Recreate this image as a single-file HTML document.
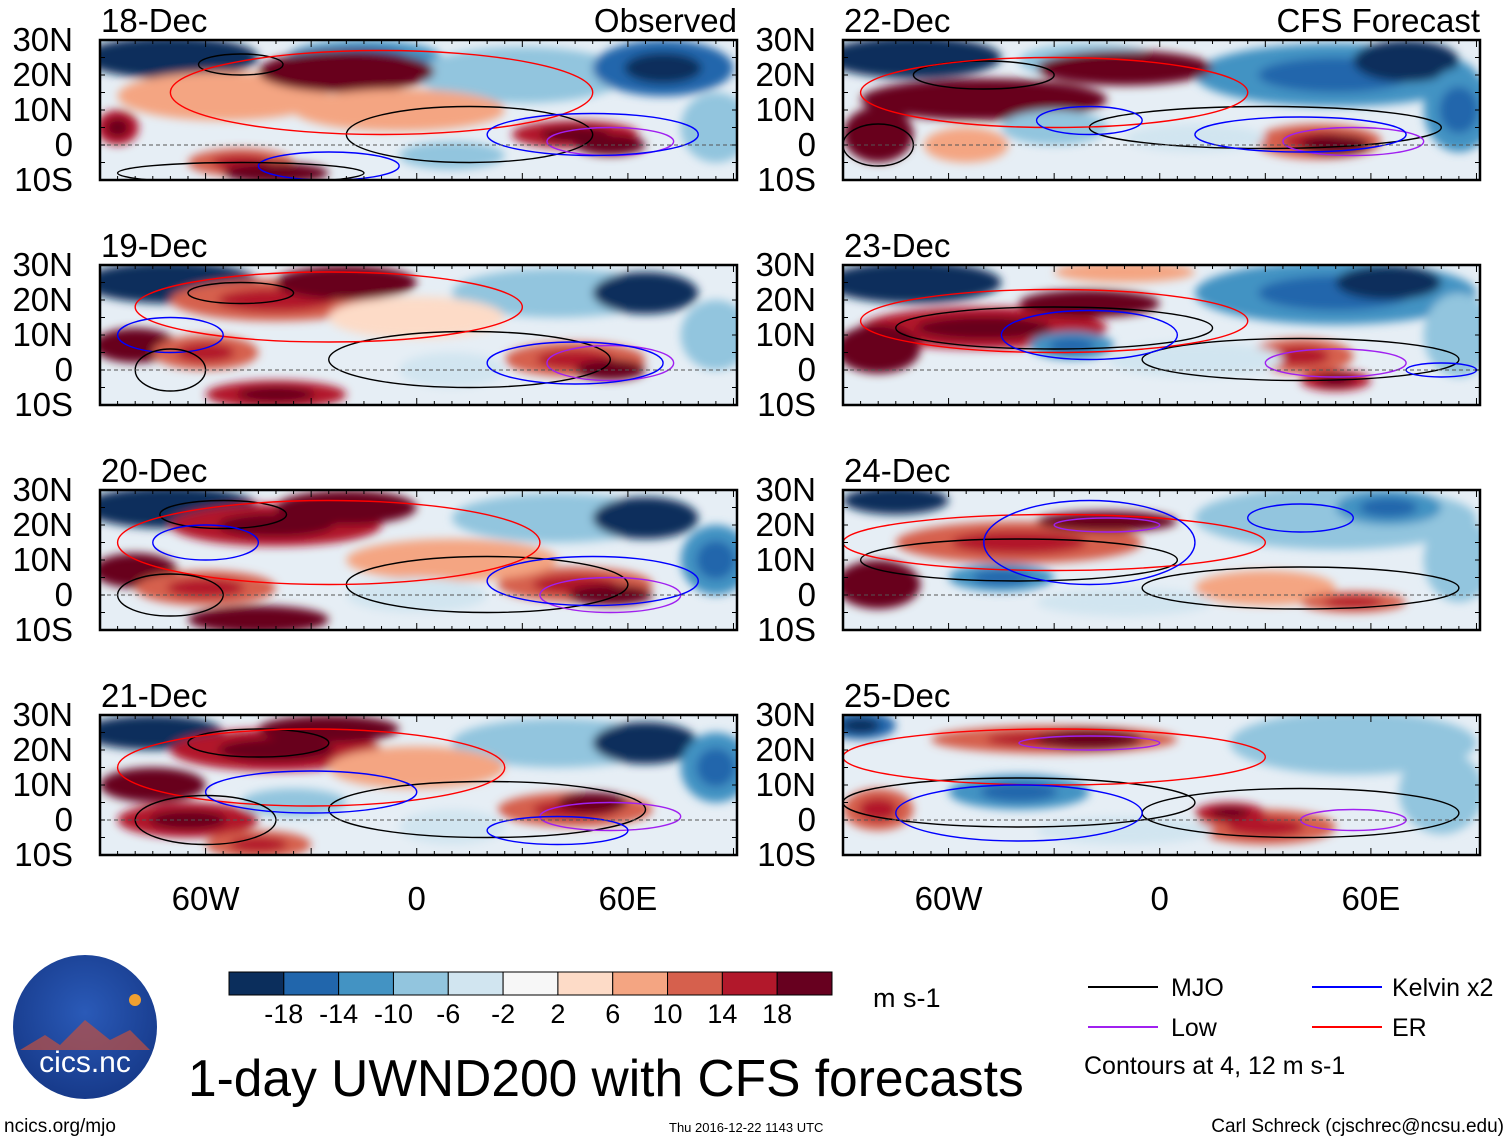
<!DOCTYPE html>
<html><head><meta charset="utf-8">
<style>
body{margin:0;background:#fff;}
svg{display:block;font-family:"Liberation Sans",sans-serif;}
</style></head>
<body>
<svg id="c" width="1510" height="1142" viewBox="0 0 1510 1142" xmlns="http://www.w3.org/2000/svg">
<defs>
<filter id="bl" x="-50%" y="-50%" width="200%" height="200%"><feGaussianBlur stdDeviation="4.5"/></filter>
<radialGradient id="lg" cx="50%" cy="40%" r="60%"><stop offset="0" stop-color="#2a5ab8"/><stop offset="1" stop-color="#173a8a"/></radialGradient>
</defs>
<g id="panels"></g>
<g id="cbar"></g>
<text x="873" y="1007" font-size="27">m s-1</text>
<g font-size="25">
<line x1="1088" y1="987" x2="1158" y2="987" stroke="#000" stroke-width="2"/><text x="1171" y="996">MJO</text>
<line x1="1312" y1="987" x2="1382" y2="987" stroke="#0000ff" stroke-width="2"/><text x="1392" y="996">Kelvin x2</text>
<line x1="1088" y1="1027" x2="1158" y2="1027" stroke="#a020f0" stroke-width="2"/><text x="1171" y="1036">Low</text>
<line x1="1312" y1="1027" x2="1382" y2="1027" stroke="#ff0000" stroke-width="2"/><text x="1392" y="1036">ER</text>
<text x="1084" y="1074">Contours at 4, 12 m s-1</text>
</g>
<text x="188" y="1096" font-size="51.5">1-day UWND200 with CFS forecasts</text>
<text x="4" y="1132" font-size="19">ncics.org/mjo</text>
<text x="669" y="1132" font-size="13">Thu 2016-12-22 1143 UTC</text>
<text x="1504" y="1132" font-size="19" text-anchor="end">Carl Schreck (cjschrec@ncsu.edu)</text>
<g>
<circle cx="85" cy="1027" r="72" fill="url(#lg)"/>
<path d="M20 1050 L45 1035 L60 1045 L85 1020 L110 1040 L130 1030 L150 1050 Z" fill="#c05040" opacity="0.7"/>
<circle cx="135" cy="1000" r="6" fill="#f0a030"/>
<text x="85" y="1072" font-size="30" fill="#fff" text-anchor="middle">cics.nc</text>
</g>
</svg>
<script>
const NS="http://www.w3.org/2000/svg";
const dates=["18-Dec","19-Dec","20-Dec","21-Dec","22-Dec","23-Dec","24-Dec","25-Dec"];
const cbLevels=[-18,-14,-10,-6,-2,2,6,10,14,18];
const cbColors=["#0b2e5c","#2166ac","#4393c3","#92c5de","#d1e5f0","#f7f7f7","#fddbc7","#f4a582","#d6604d","#b2182b","#67001f"];
const latTicks=[30,20,10,0,-10];
const latLabels=["30N","20N","10N","0","10S"];
const lonTicks=[-60,0,60];
const lonLabels=["60W","0","60E"];
// blobs: [lon, lat, rxDeg, ryDeg, value m/s]
const blobs18=[[-70,25,25,6,-20],[-15,25,22,5,-12],[30,20,30,8,-8],[70,22,20,8,-14],[-55,14,30,7,8],[-20,21,25,6,16],[-5,10,30,6,6],[-85,5,6,5,14],[45,3,18,4,14],[55,0,10,3,22],[-50,-5,15,4,12],[-40,-8,15,3,16],[10,-3,15,4,-6],[85,5,10,10,-6]];
const blobs19=[[-70,25,25,6,-20],[-35,21,18,5,-10],[40,22,30,7,-8],[65,22,15,6,-18],[-40,20,30,6,12],[-20,25,20,5,18],[-80,7,12,5,18],[-60,5,15,5,10],[45,3,20,5,12],[55,0,10,3,20],[-40,-7,20,4,14],[0,15,25,6,5],[10,0,15,5,-5],[85,10,10,10,-8]];
const blobs20=[[-70,25,25,6,-22],[40,22,30,7,-8],[65,22,15,6,-18],[-40,20,30,6,14],[-20,25,20,5,20],[-80,7,12,5,18],[-60,2,20,5,12],[45,3,22,5,12],[55,0,12,3,20],[-45,-7,20,4,16],[10,10,30,6,6],[0,0,20,5,-4],[85,10,10,10,-10]];
const blobs21=[[-75,25,20,5,-22],[40,22,30,7,-8],[65,22,15,6,-16],[-40,20,30,6,14],[-25,26,20,4,20],[-75,10,15,5,18],[-65,0,20,5,14],[45,3,22,5,12],[50,5,10,3,18],[-35,5,15,4,-8],[0,15,25,6,6],[10,-2,15,5,-4],[-45,-7,15,4,10],[85,15,10,10,-10]];
const blobs22=[[-70,25,25,6,-20],[-20,24,20,5,-8],[50,20,40,9,-10],[70,24,15,6,-16],[-50,13,35,6,16],[-10,22,25,5,16],[-80,3,10,8,18],[-55,0,12,5,8],[45,1,18,5,12],[50,0,10,3,18],[-30,5,15,5,-6],[10,2,20,4,-4],[85,10,10,12,-10]];
const blobs23=[[-70,25,25,6,-18],[-10,28,20,3,8],[50,22,40,9,-10],[65,25,15,5,-18],[-50,12,35,6,14],[-20,19,20,4,16],[-80,6,12,7,16],[-25,7,12,4,-10],[40,4,15,5,10],[50,-3,10,3,14],[10,3,25,5,-3],[85,10,10,12,-8]];
const blobs24=[[-75,27,15,4,-16],[50,22,40,9,-8],[65,25,15,5,-12],[-40,15,35,6,10],[-15,21,20,3,18],[-80,3,12,7,16],[-45,5,15,4,-10],[30,2,20,5,8],[55,-2,15,3,10],[-10,-2,25,4,-5],[85,10,10,12,-6]];
const blobs25=[[-85,27,10,4,-14],[55,22,35,9,-8],[-30,23,35,4,12],[-20,23,15,3,18],[-80,3,10,6,10],[-40,8,20,5,-10],[30,-2,20,5,10],[20,2,10,3,14],[-10,-3,25,4,-4],[80,8,12,12,-6]];
const allBlobs=[blobs18,blobs19,blobs20,blobs21,blobs22,blobs23,blobs24,blobs25];
// contours: [color, lon, lat, rxDeg, ryDeg]
const cont18=[["#000",15,3,35,8],["#000",-50,23,12,3],["#a020f0",55,1,18,4],["#ff0000",-10,15,60,12],["#0000ff",50,3,30,6],["#0000ff",-25,-6,20,4],["#000",-50,-8,35,3]];
const cont19=[["#000",15,3,40,8],["#000",-50,22,15,3],["#a020f0",55,2,18,5],["#ff0000",-25,18,55,10],["#0000ff",45,2,25,6],["#0000ff",-70,10,15,5],["#000",-70,0,10,6]];
const cont20=[["#000",20,3,40,8],["#000",-55,23,18,4],["#a020f0",55,0,20,5],["#ff0000",-25,15,60,12],["#0000ff",50,4,30,7],["#0000ff",-60,15,15,5],["#000",-70,0,15,6]];
const cont21=[["#000",20,3,45,8],["#000",-45,22,20,4],["#a020f0",55,1,20,4],["#ff0000",-30,15,55,11],["#0000ff",-30,8,30,6],["#0000ff",40,-3,20,4],["#000",-60,0,20,7]];
const cont22=[["#000",30,5,50,6],["#000",-50,20,20,4],["#a020f0",55,1,20,4],["#ff0000",-30,15,55,10],["#0000ff",-20,7,15,4],["#0000ff",40,3,30,5],["#000",-80,0,10,6]];
const cont23=[["#000",40,3,45,6],["#000",-30,12,45,6],["#a020f0",50,2,20,4],["#ff0000",-30,14,55,9],["#0000ff",-20,10,25,7],["#0000ff",80,0,10,2]];
const cont24=[["#000",40,2,45,6],["#000",-40,10,45,6],["#a020f0",-15,20,15,2],["#ff0000",-30,15,60,8],["#0000ff",-20,15,30,12],["#0000ff",40,22,15,4]];
const cont25=[["#000",40,2,45,7],["#000",-40,5,50,7],["#a020f0",-20,22,20,2],["#ff0000",-30,18,60,8],["#0000ff",-40,2,35,8],["#a020f0",55,0,15,3]];
const allCont=[cont18,cont19,cont20,cont21,cont22,cont23,cont24,cont25];

const LON0=-90,LON1=91,LAT0=-10,LAT1=30,PW=637,PH=140;
const lefts=[100,843], tops=[40,265,490,715];
function colorOf(v){let i=0;while(i<cbLevels.length&&v>cbLevels[i])i++;return cbColors[i];}
function el(tag,attrs,parent){const e=document.createElementNS(NS,tag);for(const k in attrs)e.setAttribute(k,attrs[k]);parent.appendChild(e);return e;}
const root=document.getElementById('panels');
for(let p=0;p<8;p++){
  const x0=lefts[p<4?0:1], y0=tops[p%4];
  const xs=lon=>x0+(lon-LON0)/(LON1-LON0)*PW;
  const ys=lat=>y0+(LAT1-lat)/(LAT1-LAT0)*PH;
  const kx=PW/(LON1-LON0), ky=PH/(LAT1-LAT0);
  const g=el('g',{},root);
  
  
  const cp=el('clipPath',{id:'cp'+p},g);
  el('rect',{x:x0,y:y0,width:PW,height:PH},cp);
  const inner=el('g',{'clip-path':'url(#cp'+p+')'},g);
  el('rect',{x:x0,y:y0,width:PW,height:PH,fill:'#e6eef5'},inner);
  const fg=el('g',{filter:'url(#bl)'},inner);
  for(const b of allBlobs[p]){
    const e=el('ellipse',{cx:xs(b[0]),cy:ys(b[1]),rx:b[2]*kx,ry:b[3]*ky,fill:colorOf(b[4]*1.15)},fg);
    
    
    if(Math.abs(b[4])>9){el('ellipse',{cx:xs(b[0]),cy:ys(b[1]),rx:b[2]*kx*0.55,ry:b[3]*ky*0.55,fill:colorOf(b[4]+(b[4]>0?5:-5))},fg);}
  }
  for(const c of allCont[p]){
    const e=el('ellipse',{cx:xs(c[1]),cy:ys(c[2]),rx:c[3]*kx,ry:c[4]*ky,fill:'none',stroke:c[0],'stroke-width':1.4},inner);
    
    
  }
  el('line',{x1:x0,y1:ys(0),x2:x0+PW,y2:ys(0),stroke:'#555','stroke-dasharray':'4,3','stroke-width':1},inner);
  el('rect',{x:x0,y:y0,width:PW,height:PH,fill:'none',stroke:'#000','stroke-width':2.5},g);
  for(let lo=-90;lo<=90;lo+=5){const x=xs(lo);const L=lo%30==0?7:4;
    el('line',{x1:x,y1:y0,x2:x,y2:y0+L,stroke:'#000'},g);el('line',{x1:x,y1:y0+PH,x2:x,y2:y0+PH-L,stroke:'#000'},g);}
  for(let la=-10;la<=30;la+=5){const y=ys(la);el('line',{x1:x0,y1:y,x2:x0+5,y2:y,stroke:'#000'},g);el('line',{x1:x0+PW,y1:y,x2:x0+PW-5,y2:y,stroke:'#000'},g);}
  latTicks.forEach((la,i)=>{const t=el('text',{x:x0-27,y:ys(la)+11,'font-size':33,'text-anchor':'end'},g);t.textContent=latLabels[i];
    });
  const d=el('text',{x:x0+1,y:y0-8,'font-size':33},g);d.textContent=dates[p];
  
  if(p==0||p==4){const t=el('text',{x:x0+PW,y:y0-8,'font-size':33,'text-anchor':'end'},g);t.textContent=p==0?'Observed':'CFS Forecast';
    }
  if(p%4==3){lonTicks.forEach((lo,i)=>{const t=el('text',{x:xs(lo),y:y0+PH+55,'font-size':33,'text-anchor':'middle'},g);t.textContent=lonLabels[i];
    });}
}
const cb=document.getElementById('cbar');
const cbx=229,cbw=603/11;
cbColors.forEach((c,i)=>{const r=el('rect',{x:cbx+i*cbw,y:972,width:cbw,height:23,fill:c,stroke:'#000','stroke-width':1},cb);
  });
cbLevels.forEach((v,i)=>{const t=el('text',{x:cbx+(i+1)*cbw,y:1023,'font-size':27,'text-anchor':'middle'},cb);t.textContent=v;
  });
</script>
</body></html>
